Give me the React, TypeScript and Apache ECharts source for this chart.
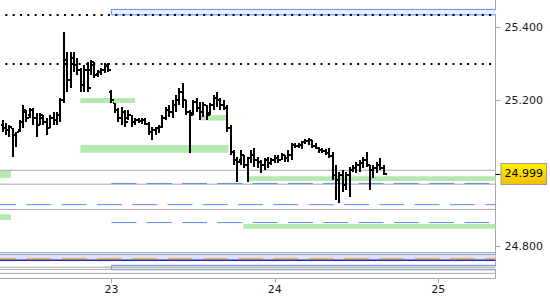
import React, { useEffect, useRef } from "react";
import * as echarts from "echarts";

// ---- data ----
const T0 = 22 + 8 / 24; // first 30-minute bar
const STEP = 1 / 48;
const X_MIN = 22.318;
const X_MAX = 25.351;
const Y_MIN = 24.7144;
const Y_MAX = 25.4747;
const dayTicks = [23, 24, 25];
const priceTicks = [24.8, 25.2, 25.4];
const lastPrice = 24.999;

const opens = [
  25.133, 25.125, 25.119, 25.125, 25.105, 25.119, 25.141, 25.168, 25.16, 25.174, 25.152, 25.133, 25.152, 25.141, 25.125, 25.152,
  25.147, 25.16, 25.201, 25.311, 25.256, 25.316, 25.297, 25.283, 25.242, 25.283, 25.283, 25.297, 25.272, 25.278, 25.283, 25.294,
  25.223, 25.193, 25.174, 25.152, 25.168, 25.152, 25.16, 25.141, 25.147, 25.144,
  25.147, 25.136, 25.114, 25.119, 25.125, 25.127, 25.152, 25.174, 25.168, 25.188,
  25.201, 25.223, 25.201, 25.168, 25.166, 25.196, 25.179, 25.168, 25.188, 25.166,
  25.188, 25.207, 25.201, 25.188, 25.179, 25.125, 25.059, 25.037, 25.037, 25.051,
  25.023, 25.043, 25.051, 25.037, 25.032, 25.023, 25.037, 25.029, 25.037, 25.043,
  25.037, 25.051, 25.043, 25.051, 25.078, 25.075, 25.078, 25.086, 25.089, 25.092,
  25.075, 25.07, 25.064, 25.062, 25.056, 25.048, 24.996, 24.982, 24.996, 24.969,
  24.996, 25.01, 25.015, 25.023, 25.029, 25.037, 25.023, 25.01, 25.015, 25.023,
  25.015,
];
const highs = [
  25.147, 25.138, 25.133, 25.125, 25.114, 25.147, 25.188, 25.174, 25.179, 25.179, 25.166, 25.166, 25.16, 25.152, 25.16, 25.168,
  25.168, 25.207, 25.387, 25.333, 25.333, 25.333, 25.316, 25.289, 25.297, 25.305, 25.311, 25.305, 25.283, 25.289, 25.302, 25.302,
  25.229, 25.193, 25.179, 25.182, 25.174, 25.174, 25.16, 25.152, 25.152, 25.152,
  25.152, 25.141, 25.127, 25.127, 25.133, 25.16, 25.182, 25.188, 25.201, 25.215,
  25.234, 25.248, 25.201, 25.174, 25.201, 25.207, 25.196, 25.196, 25.188, 25.193,
  25.215, 25.223, 25.207, 25.201, 25.188, 25.133, 25.064, 25.045, 25.064, 25.051,
  25.045, 25.064, 25.07, 25.045, 25.037, 25.043, 25.045, 25.043, 25.051, 25.051,
  25.056, 25.051, 25.064, 25.084, 25.084, 25.084, 25.089, 25.095, 25.097, 25.092,
  25.084, 25.073, 25.07, 25.067, 25.07, 25.059, 25.023, 25.004, 25.01, 25.004,
  25.018, 25.023, 25.032, 25.037, 25.045, 25.059, 25.023, 25.023, 25.032, 25.043,
  25.023,
];
const lows = [
  25.114, 25.105, 25.1, 25.045, 25.073, 25.114, 25.125, 25.141, 25.152, 25.133, 25.1, 25.133, 25.133, 25.105, 25.125, 25.133,
  25.133, 25.141, 25.193, 25.223, 25.234, 25.278, 25.27, 25.223, 25.223, 25.223, 25.27, 25.261, 25.264, 25.27, 25.275, 25.278,
  25.193, 25.166, 25.141, 25.133, 25.127, 25.147, 25.127, 25.133, 25.138, 25.136,
  25.133, 25.105, 25.092, 25.105, 25.111, 25.125, 25.147, 25.155, 25.152, 25.168,
  25.188, 25.179, 25.16, 25.056, 25.16, 25.168, 25.147, 25.155, 25.147, 25.16,
  25.174, 25.182, 25.174, 25.174, 25.114, 25.051, 25.023, 24.977, 25.023, 25.015,
  24.977, 25.029, 25.018, 25.015, 25.002, 25.01, 25.015, 25.023, 25.029, 25.029,
  25.037, 25.032, 25.032, 25.037, 25.07, 25.07, 25.067, 25.081, 25.078, 25.07,
  25.067, 25.056, 25.056, 25.051, 25.043, 24.982, 24.928, 24.92, 24.95, 24.955,
  24.936, 25.004, 25.002, 25.004, 25.015, 25.018, 24.955, 24.988, 25.002, 25.01,
  24.996,
];
const closes = [
  25.125, 25.119, 25.127, 25.105, 25.114, 25.141, 25.174, 25.152, 25.174, 25.152, 25.133, 25.16, 25.141, 25.125, 25.152, 25.147,
  25.16, 25.201, 25.311, 25.256, 25.316, 25.297, 25.283, 25.242, 25.283, 25.234, 25.305, 25.27, 25.278, 25.283, 25.297, 25.283,
  25.201, 25.174, 25.152, 25.168, 25.141, 25.16, 25.141, 25.147, 25.144, 25.147,
  25.136, 25.114, 25.119, 25.125, 25.127, 25.152, 25.174, 25.168, 25.188, 25.201,
  25.223, 25.201, 25.168, 25.16, 25.196, 25.179, 25.168, 25.188, 25.16, 25.188,
  25.207, 25.201, 25.188, 25.179, 25.125, 25.059, 25.037, 25.032, 25.051, 25.023,
  25.043, 25.051, 25.037, 25.032, 25.023, 25.037, 25.029, 25.037, 25.043, 25.037,
  25.051, 25.043, 25.051, 25.078, 25.075, 25.078, 25.086, 25.089, 25.092, 25.075,
  25.07, 25.064, 25.062, 25.056, 25.048, 24.996, 24.982, 24.996, 24.969, 24.996,
  25.01, 25.015, 25.023, 25.029, 25.037, 25.023, 25.01, 25.015, 25.023, 25.015,
  24.999,
];

// zones: [fromDay, toDay, topPrice, bottomPrice]
const greenZones = [
  [22.81, 23.145, 25.207, 25.193],
  [22.81, 23.716, 25.078, 25.057],
  [23.546, 23.716, 25.16, 25.145],
  [23.832, X_MAX, 24.993, 24.98],
  [X_MIN, 22.385, 25.007, 24.988],
  [X_MIN, 22.385, 24.889, 24.873],
  [23.807, X_MAX, 24.862, 24.849],
];
const blueZones = [
  [23.0, X_MAX + 0.01, 25.449, 25.434],
  [23.0, X_MAX + 0.01, 24.749, 24.737],
];
const lavenderZones = [[X_MIN, X_MAX, 24.779, 24.763]];

// levels
const grayLevels = [25.009, 24.971, 24.902, 24.784, 24.744, 24.738, 24.727];
const dottedLevels = [25.434, 25.3];
const blueDashedLevels = [
  [23.0, 24.973],
  [X_MIN, 24.915],
  [23.0, 24.866],
];
const orangeDashedLevel = 24.768;
const bandTopLine = 24.779;
const bandBottomLine = 24.763;

const FONT = "DejaVu Sans";

function levelSeries(from: number, to: number, y: number, lineStyle: any, z: number) {
  return {
    type: "line",
    silent: true,
    symbol: "none",
    z,
    data: [
      [from, y],
      [to, y],
    ],
    lineStyle,
  };
}

function zoneSeries(zones: number[][], style: any, z: number) {
  return {
    type: "custom",
    silent: true,
    z,
    clip: true,
    encode: { x: [0, 1], y: [2, 3] },
    data: zones,
    renderItem: (params: any, api: any) => {
      const p0 = api.coord([api.value(0), api.value(2)]);
      const p1 = api.coord([api.value(1), api.value(3)]);
      return {
        type: "rect",
        shape: { x: p0[0], y: p0[1], width: p1[0] - p0[0], height: p1[1] - p0[1] },
        style,
      };
    },
  };
}

export default function App() {
  const ref = useRef<HTMLDivElement>(null);
  useEffect(() => {
    if (!ref.current) return;
    const chart = echarts.init(ref.current, null, { renderer: "svg" });
    const bars = opens.map((o, i) => [T0 + i * STEP, o, highs[i], lows[i], closes[i]]);
    const series: any[] = [];
    series.push(zoneSeries(greenZones, { fill: "#b6e8b2" }, 1));
    series.push(zoneSeries(lavenderZones, { fill: "#e2e2f8" }, 1));
    series.push(zoneSeries(blueZones, { fill: "#e4ecfd", stroke: "#5e8ff0", lineWidth: 1 }, 2));
    grayLevels.forEach((y) => series.push(levelSeries(X_MIN, X_MAX, y, { color: "#a8a8a8", width: 1 }, 3)));
    series.push(levelSeries(X_MIN, X_MAX, bandTopLine, { color: "#7595f0", width: 1 }, 3));
    series.push(levelSeries(X_MIN, X_MAX, bandBottomLine, { color: "#2424cc", width: 1.5 }, 3));
    series.push(
      levelSeries(X_MIN, X_MAX, orangeDashedLevel, { color: "#f5b400", width: 1, type: [25, 10.3], dashOffset: 9 }, 4)
    );
    blueDashedLevels.forEach(([from, y]) =>
      series.push(
        levelSeries(from, X_MAX, y, { color: "#5b8df0", width: 1, type: [25, 10.3], dashOffset: from === X_MIN ? 9 : 0 }, 4)
      )
    );
    dottedLevels.forEach((y) =>
      series.push(levelSeries(X_MIN, X_MAX, y, { color: "#000", width: 2, type: [2, 5.33], dashOffset: 2.33 }, 4))
    );
    series.push({
      type: "custom",
      z: 10,
      clip: true,
      encode: { x: 0, y: [1, 2, 3, 4] },
      data: bars,
      renderItem: (params: any, api: any) => {
        const x = api.value(0);
        const o = api.coord([x, api.value(1)]);
        const h = api.coord([x, api.value(2)]);
        const l = api.coord([x, api.value(3)]);
        const c = api.coord([x, api.value(4)]);
        const cx = Math.round(h[0]);
        const ht = Math.round(h[1]);
        const lb = Math.round(l[1]);
        return {
          type: "group",
          children: [
            { type: "rect", shape: { x: cx - 1, y: ht, width: 2, height: Math.max(2, lb - ht) }, style: { fill: "#000" } },
            { type: "rect", shape: { x: cx - 2, y: Math.round(o[1]) - 1, width: 1, height: 2 }, style: { fill: "#000" } },
            { type: "rect", shape: { x: cx + 1, y: Math.round(c[1]) - 1, width: 2, height: 2 }, style: { fill: "#000" } },
          ],
        };
      },
    });

    chart.setOption({
      animation: false,
      grid: { left: 0, right: 51, top: 0, bottom: 22 },
      xAxis: {
        type: "value",
        min: X_MIN,
        max: X_MAX,
        splitLine: { show: false },
        axisLine: { lineStyle: { color: "#a8a8a8" } },
        axisTick: { customValues: dayTicks, length: 5, lineStyle: { color: "#a8a8a8" } },
        axisLabel: {
          customValues: dayTicks,
          formatter: (v: number) => String(Math.round(v)),
          margin: 6,
          fontSize: 11,
          fontFamily: FONT,
          color: "#1a1a1a",
        },
      },
      yAxis: [
        {
          type: "value",
          position: "right",
          min: Y_MIN,
          max: Y_MAX,
          splitLine: { show: false },
          axisLine: { show: true, lineStyle: { color: "#a8a8a8" } },
          axisTick: { show: true, customValues: priceTicks, length: 5, lineStyle: { color: "#a8a8a8" } },
          axisLabel: {
            customValues: priceTicks,
            formatter: (v: number) => v.toFixed(3),
            margin: 9,
            fontSize: 11,
            fontFamily: FONT,
            color: "#1a1a1a",
          },
        },
        {
          type: "value",
          position: "right",
          min: Y_MIN,
          max: Y_MAX,
          splitLine: { show: false },
          axisLine: { show: false },
          axisTick: { show: true, customValues: [lastPrice], length: 5, lineStyle: { color: "#000" } },
          axisLabel: {
            customValues: [lastPrice],
            formatter: (v: number) => v.toFixed(3),
            margin: 6,
            fontSize: 11,
            lineHeight: 12,
            fontFamily: FONT,
            color: "#000",
            padding: [4, 3, 4, 3],
            borderColor: "#9a9a9a",
            borderWidth: 1,
            backgroundColor: new echarts.graphic.LinearGradient(0, 0, 0, 1, [
              { offset: 0, color: "#fff200" },
              { offset: 1, color: "#f5c000" },
            ]),
          },
        },
      ],
      series,
    });
    return () => chart.dispose();
  }, []);
  return <div ref={ref} style={{ width: 550, height: 300, position: "absolute", left: 0, top: 0 }} />;
}
